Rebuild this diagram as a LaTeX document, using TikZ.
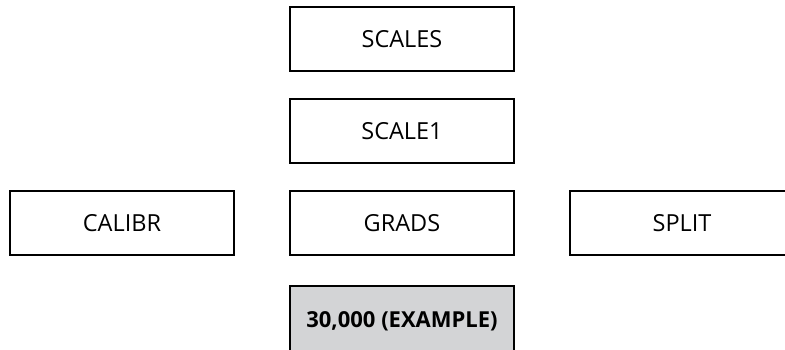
\documentclass[tikz,border=0pt]{standalone}
\usepackage{fontspec}
\setmainfont{Open Sans}
\usetikzlibrary{positioning}
\definecolor{light_grey}{RGB}{211,212,214}

\begin{document}
\begin{tikzpicture}[x=1pt, y=1pt,
    scale_box/.style={draw, rectangle, line width=2pt, minimum width=224pt, minimum height=64pt, inner sep=0pt, font=\fontsize{23.5}{26}\selectfont},
    example_box/.style={scale_box, minimum height=70pt, fill=light_grey, font=\fontsize{22}{24}\selectfont\bfseries}]

    % Fix the page size and cut off what runs past it.
    \useasboundingbox (0,0) rectangle (785,-350);
    \clip (0,0) rectangle (785,-350);

    % --- Begin Middle Column ---
    \node [scale_box] (Scales) at (402,-39) {SCALES};
    \node [scale_box, below=26pt of Scales] (Scale1) {SCALE1};
    \node [scale_box, below=26pt of Scale1] (Grads) {GRADS};
    % --- End Middle Column ---

    % --- Begin Side Nodes ---
    \node [scale_box, left=54pt of Grads] (Calibr) {CALIBR};
    \node [scale_box, right=54pt of Grads] (Split) {SPLIT};
    % --- End Side Nodes ---

    % Example value, runs off the bottom edge.
    \node [example_box, below=29pt of Grads] (Example) {30,000 (EXAMPLE)};

\end{tikzpicture}
\end{document}
